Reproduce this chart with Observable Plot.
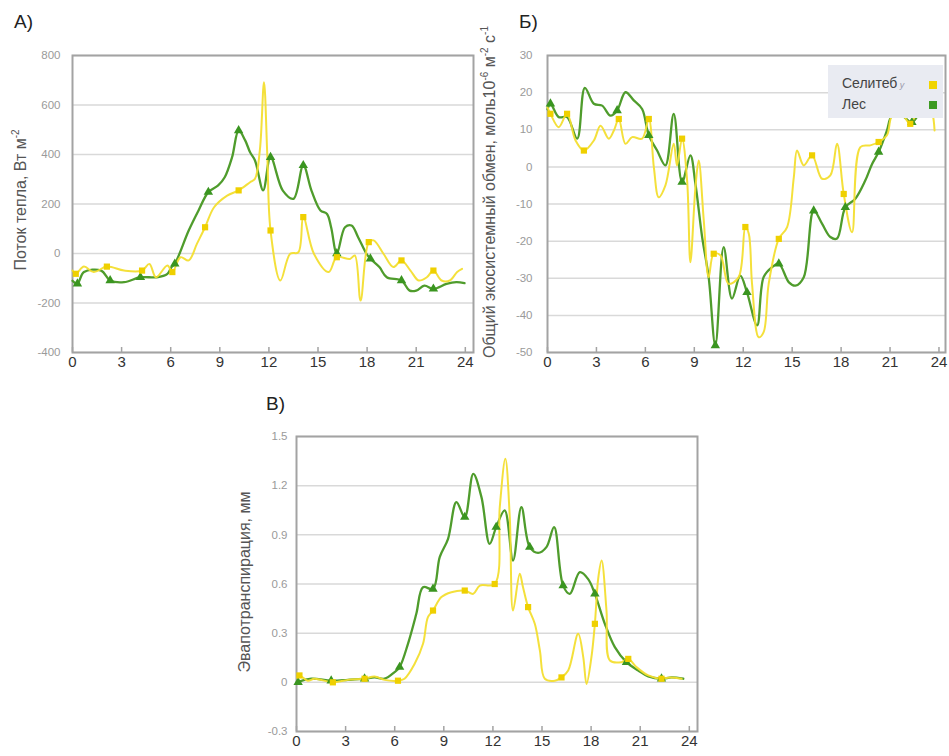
<!DOCTYPE html>
<html>
<head>
<meta charset="utf-8">
<script src="https://cdn.jsdelivr.net/npm/d3@7"></script>
<script src="https://cdn.jsdelivr.net/npm/@observablehq/plot@0.6"></script>
<style>
  html, body { margin: 0; padding: 0; background: #fff; }
  #root { position: relative; width: 949px; height: 756px; overflow: hidden; background: #fff;
          font-family: "Liberation Sans", Arial, sans-serif; }
  .pl { position: absolute; z-index: 1; }
  .lbl { position: absolute; font-size: 19px; color: #222; z-index: 3; }
  .ylab { position: absolute; font-size: 16px; color: #555; white-space: nowrap; z-index: 3;
          transform: translate(-50%, -50%) rotate(-90deg); }
  .ylab sup { font-size: 10px; }
  #legend { position: absolute; left: 828px; top: 65px; width: 115px; height: 53px; background: #e9ebf2; z-index: 2; }
  .li { position: absolute; left: 14px; font-size: 14px; color: #444; }
  .lm { position: absolute; width: 8px; height: 8px; }
</style>
</head>
<body>
<div id="root">
  <div id="pA" class="pl" style="left:0px; top:40px;"></div>
  <div id="pB" class="pl" style="left:480px; top:40px;"></div>
  <div id="pC" class="pl" style="left:220px; top:380px;"></div>
  <div class="lbl" style="left:14px; top:11px;">А)</div>
  <div class="lbl" style="left:519px; top:11px;">Б)</div>
  <div class="lbl" style="left:266px; top:393px;">В)</div>
  <div class="ylab" style="left:20px; top:200px;">Поток тепла, Вт м<sup>-2</sup></div>
  <div class="ylab" style="left:489px; top:192px;">Общий экосистемный обмен, моль10<sup>-6</sup> м<sup>-2</sup> с<sup>-1</sup></div>
  <div class="ylab" style="left:245px; top:582px;">Эвапотранспирация, мм</div>
  <div id="legend">
    <div class="li" style="top:10px;">Селитеб<span style="font-size:9px;color:#99a;font-style:italic;"> у</span></div>
    <div class="lm" style="left:101px; top:16px; background:#f0d400;"></div>
    <div class="li" style="top:31px;">Лес</div>
    <div class="lm" style="left:101px; top:36px; background:#3c9a22;"></div>
  </div>
</div>
<script>
// ---------- axis ticks ----------
const xTicks = [0, 3, 6, 9, 12, 15, 18, 21, 24];
const heatTicks = [-400, -200, 0, 200, 400, 600, 800];
const neeTicks = [-50, -40, -30, -20, -10, 0, 10, 20, 30];
const etTicks = [-0.3, 0, 0.3, 0.6, 0.9, 1.2, 1.5];

// ---------- А) heat flux, W m-2  [hour, value] ----------
const heatForest = [[0,-110],[0.3,-122],[0.7,-75],[1.75,-69],[2.3,-109],[3.15,-116],[4.15,-96],[5.15,-96],[5.8,-82],[6.05,-55],[6.25,-42],[7.1,93],[7.7,174],[8.3,248],[8.9,275],[9.3,308],[9.75,389],[10.15,497],[10.55,457],[10.85,409],[11.15,376],[11.65,255],[12.1,389],[12.85,254],[13.5,221],[14.1,356],[14.6,254],[15.15,174],[15.55,160],[15.8,106],[16.15,0],[16.65,106],[17.05,113],[17.45,66],[17.95,0],[18.2,-21],[18.75,-55],[19.2,-96],[20.1,-109],[20.6,-150],[21,-150],[21.5,-130],[22.05,-143],[22.85,-123],[23.45,-116],[23.95,-120]];
const heatUrban = [[0,-69],[0.2,-82],[0.7,-53],[1.3,-75],[2.1,-53],[3.15,-69],[4.25,-69],[4.7,-42],[5.1,-96],[5.8,-48],[6.1,-75],[6.6,-15],[7.1,-28],[7.6,39],[8.1,106],[8.65,187],[9.45,234],[10.15,255],[10.85,288],[11.15,302],[11.45,420],[11.7,692],[11.9,400],[12.1,93],[12.7,-109],[13.3,-1],[13.8,5],[14.1,147],[14.75,-1],[15.65,-75],[16.15,-15],[16.95,-22],[17.25,-8],[17.6,-190],[18.1,46],[18.4,53],[19,-1],[19.6,-55],[20.1,-28],[20.65,-69],[21.15,-109],[21.65,-96],[22.05,-69],[22.55,-109],[23.05,-109],[23.5,-75],[23.8,-62]];
const heatForestMarks = [[0.3,-122],[2.3,-109],[4.15,-96],[6.25,-42],[8.3,248],[10.15,497],[12.1,389],[14.1,356],[16.15,0],[18.2,-21],[20.1,-109],[22.05,-143]];
const heatUrbanMarks = [[0.2,-82],[2.1,-53],[4.25,-69],[6.1,-75],[8.1,106],[10.15,255],[12.1,93],[14.1,147],[16.15,-15],[18.1,46],[20.1,-28],[22.05,-69]];

// ---------- Б) net ecosystem exchange ----------
const neeForest = [[0,15.5],[0.18,17],[0.69,13.4],[1.2,13.4],[1.82,7.6],[2.29,21.3],[2.84,17],[3.35,16.5],[3.86,13.8],[4.27,15.2],[4.78,20.1],[5.29,17.9],[5.8,15.6],[6.21,8.5],[6.72,4.4],[7.23,0.4],[7.74,14.3],[8.25,-4.1],[8.76,3.1],[9.07,-4.6],[9.48,-18.9],[9.88,-29.7],[10.29,-48.1],[10.8,-21.6],[11.31,-35.5],[11.82,-29.3],[12.23,-33.8],[12.85,-42.7],[13.25,-29.7],[13.77,-27],[14.18,-26.1],[14.8,-31.1],[15.2,-32],[15.71,-29.7],[16.32,-11.8],[16.83,-15.3],[17.34,-18.9],[17.75,-19.3],[18.26,-10.9],[18.87,-8.6],[19.48,-3.7],[19.9,0.8],[20.3,4],[20.81,9.8],[21.12,13.8],[21.73,13.8],[22.34,12],[22.96,15.6],[23.47,17.4],[23.88,19.7]];
const neeUrban = [[0,16],[0.18,14.3],[0.69,10.7],[1.2,14.3],[1.72,7.1],[2.23,4.4],[2.84,7.1],[3.25,11.1],[3.76,7.6],[4.07,9.8],[4.37,12.9],[4.78,6.2],[5.19,8],[5.8,7.6],[6.21,12.9],[6.52,-0.1],[6.82,-8.2],[7.23,-5],[7.74,6.2],[7.94,0.4],[8.25,7.6],[8.56,-3.7],[8.76,-25.7],[9.07,-5.5],[9.27,1.7],[9.58,-14.4],[9.88,-29.7],[10.19,-23.4],[10.6,-23.8],[11.1,-31.5],[11.72,-29.7],[12.13,-16.2],[12.34,-18],[12.54,-31.5],[12.95,-45.9],[13.25,-44.5],[13.56,-31.5],[14.18,-19.4],[14.69,-16.2],[15.1,-2.8],[15.3,4.4],[15.71,0.4],[16.22,3.1],[16.83,-3.2],[17.34,-2.3],[17.75,6.2],[18.16,-7.3],[18.67,-17.6],[19.18,5.3],[19.79,5.8],[20.3,6.7],[20.81,8.5],[21.12,13.8],[21.63,14.7],[22.24,11.6],[22.75,15.6],[23.26,16.5],[23.57,14.7],[23.73,9.8]];
const neeForestMarks = [[0.18,17],[4.27,15.2],[6.21,8.5],[8.25,-4.1],[10.29,-48.1],[12.23,-33.8],[14.18,-26.1],[16.32,-11.8],[18.26,-10.9],[20.3,4],[22.34,12],[23.47,17.4]];
const neeUrbanMarks = [[0.18,14.3],[1.2,14.3],[2.23,4.4],[4.37,12.9],[6.21,12.9],[8.25,7.6],[10.19,-23.4],[12.13,-16.2],[14.18,-19.4],[16.22,3.1],[18.16,-7.3],[20.3,6.7],[22.24,11.6]];

// ---------- В) evapotranspiration, mm ----------
const etForest = [[0.05,0],[0.9,0.022],[2.12,0.01],[3.14,0.015],[4.16,0.022],[4.77,0.03],[5.38,0.022],[5.99,0.062],[6.3,0.093],[6.81,0.235],[7.32,0.418],[7.73,0.58],[8.34,0.57],[8.75,0.764],[9.26,0.876],[9.77,1.1],[10.28,1.008],[10.8,1.272],[11.3,1.13],[11.8,0.845],[12.2,0.947],[12.72,1.049],[13.23,0.743],[13.74,1.069],[14.25,0.825],[14.76,0.79],[15.27,0.825],[15.74,0.947],[16.29,0.59],[16.7,0.54],[17.31,0.672],[17.82,0.63],[18.23,0.54],[18.84,0.357],[19.45,0.215],[20.16,0.123],[20.88,0.072],[21.49,0.036],[22.3,0.022],[22.92,0.03],[23.63,0.022]];
const etUrban = [[0.05,0.03],[0.18,0.042],[0.69,0.01],[1.1,0.022],[2.22,0],[3.14,0.015],[4.16,0.022],[4.77,0.036],[5.38,0.015],[6.2,0.01],[6.6,0.022],[7.22,0.113],[7.73,0.235],[8.03,0.398],[8.34,0.438],[8.85,0.52],[9.46,0.55],[10.28,0.56],[10.8,0.54],[11.2,0.59],[12.11,0.6],[12.42,1.07],[12.76,1.364],[13.03,1.008],[13.23,0.438],[13.64,0.662],[13.84,0.58],[14.15,0.459],[14.56,0.357],[14.87,0.194],[15.17,0.022],[15.78,0.01],[16.19,0.03],[16.6,0.072],[17.21,0.296],[17.52,0.154],[17.72,-0.01],[18.02,0.154],[18.23,0.357],[18.43,0.63],[18.64,0.743],[18.94,0.438],[19.15,0.133],[19.86,0.123],[20.27,0.143],[20.78,0.092],[21.49,0.042],[22.3,0.022],[22.81,0.03],[23.53,0.022]];
const etForestMarks = [[0.1,0],[2.12,0.01],[4.16,0.022],[6.3,0.093],[8.34,0.57],[10.28,1.008],[12.2,0.947],[14.25,0.825],[16.29,0.59],[18.23,0.54],[20.16,0.123],[22.3,0.022]];
const etUrbanMarks = [[0.18,0.042],[2.22,0],[4.16,0.022],[6.2,0.01],[8.34,0.438],[10.28,0.56],[12.11,0.6],[14.15,0.459],[16.19,0.03],[18.23,0.357],[20.27,0.143],[22.3,0.022]];

const GREEN = "#4f9c2c", GREEN_MK = "#3a9520", YELLOW = "#f3de30", YELLOW_MK = "#efd000";

function panel(o) {
  const innerH = o.height - o.mt - o.mb;
  return Plot.plot({
    width: o.width, height: o.height,
    marginLeft: o.ml, marginRight: o.mr, marginTop: o.mt, marginBottom: o.mb,
    style: { fontFamily: "'Liberation Sans', Arial, sans-serif", background: "#fff", overflow: "visible" },
    x: { domain: [0, o.xMax], axis: null },
    y: { domain: [o.yTicks[0], o.yTicks[o.yTicks.length - 1]], axis: null },
    marks: [
      Plot.gridY(o.yTicks, { stroke: "#d9d9d9", strokeOpacity: 1, strokeWidth: 1.5 }),
      Plot.frame({ stroke: "#a3a3a3", strokeWidth: 2 }),
      Plot.tickX(xTicks, { x: d => d, insetTop: innerH - 5, stroke: "#a3a3a3", strokeWidth: 1.5 }),
      Plot.line(o.forest, { x: d => d[0], y: d => d[1], stroke: GREEN, strokeWidth: 2.3, curve: "catmull-rom" }),
      Plot.line(o.urban, { x: d => d[0], y: d => d[1], stroke: YELLOW, strokeWidth: 2, strokeOpacity: 0.95, curve: "catmull-rom" }),
      Plot.dot(o.forestMarks, { x: d => d[0], y: d => d[1], symbol: "triangle", fill: GREEN_MK, r: 3.5 }),
      Plot.dot(o.urbanMarks, { x: d => d[0], y: d => d[1], symbol: "square", fill: YELLOW_MK, r: 3.5 }),
      Plot.axisY(o.yTicks, { tickSize: 0, tickPadding: o.yPad, fontSize: 11.5, fill: "#9a9a9a", label: null, tickFormat: d => String(d) }),
      Plot.axisX(xTicks, { tickSize: 0, tickPadding: 4, fontSize: 15, fill: "#333", label: null, tickFormat: d => String(d) })
    ]
  });
}

document.getElementById("pA").appendChild(panel({
  width: 480, height: 340, ml: 72, mr: 7, mt: 15, mb: 28, xMax: 24.5, yPad: 12,
  yTicks: heatTicks, forest: heatForest, urban: heatUrban, forestMarks: heatForestMarks, urbanMarks: heatUrbanMarks
}));
document.getElementById("pB").appendChild(panel({
  width: 469, height: 340, ml: 67, mr: 4, mt: 15, mb: 28, xMax: 24.4, yPad: 15,
  yTicks: neeTicks, forest: neeForest, urban: neeUrban, forestMarks: neeForestMarks, urbanMarks: neeUrbanMarks
}));
document.getElementById("pC").appendChild(panel({
  width: 490, height: 376, ml: 76, mr: 13, mt: 56, mb: 25, xMax: 24.5, yPad: 9,
  yTicks: etTicks, forest: etForest, urban: etUrban, forestMarks: etForestMarks, urbanMarks: etUrbanMarks
}));
</script>
</body>
</html>
